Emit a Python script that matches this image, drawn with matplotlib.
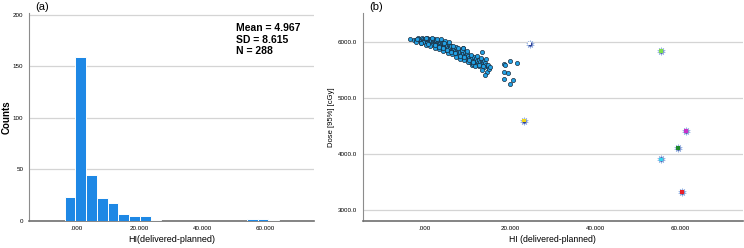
import matplotlib
matplotlib.use("Agg")
import matplotlib.pyplot as plt
import numpy as np

plt.rcParams['font.family'] = ['Liberation Sans', 'DejaVu Sans']

# ---- data: panel (a) histogram ----
bin_start = -3.9
bin_width = 3.42
counts = [23, 159, 44, 22, 17, 7, 5, 5, 1, 0, 0, 0, 0, 0, 0, 0, 0, 2, 2, 1]
hist_xticks = [0, 20, 40, 60]
hist_xticklabels = [".000", "20.000", "40.000", "60.000"]
hist_yticks = [0, 50, 100, 150, 200]
stats_text = "Mean = 4.967\nSD = 8.615\nN = 288"

# ---- data: panel (b) scatter ----
hi_main = [-3.5, -2.6, -2.0, -1.5, -1.2, -0.9, -0.6, -0.4, -0.2, 0.0, 0.1, 0.3, 0.4, 0.6, 0.7,
           0.9, 1.0, 1.1, 1.3, 1.4, 1.5, 1.6, 1.8, 1.9, 2.0, 2.1, 2.2, 2.4, 2.5, 2.6, 2.7, 2.9,
           3.0, 3.1, 3.2, 3.4, 3.5, 3.6, 3.8, 3.9, 4.0, 4.1, 4.3, 4.4, 4.5, 4.7, 4.8, 4.9, 5.0,
           5.2, 5.3, 5.5, 5.6, 5.8, 5.9, 6.0, 6.2, 6.3, 6.5, 6.6, 6.8, 6.9, 7.1, 7.3, 7.4, 7.6,
           7.8, 8.0, 8.1, 8.3, 8.5, 8.7, 8.9, 9.0, 9.2, 9.4, 9.6, 9.8, 10.0, 10.2, 10.4, 10.6,
           10.8, 11.0, 11.2, 11.5, 11.7, 11.9, 12.1, 12.3, 12.5, 12.7, 12.9, 13.1, 13.3, 13.5,
           13.6, 13.8, 14.0, 14.2, 14.4, 14.6, 14.8, 15.1, 14.2, 12.0, 11.0, 10.5, 9.5, 8.5, 7.5,
           6.5, 5.5, 4.5, 3.5, 2.5, 1.5, 0.5, -0.5,
           1.2, 2.3, 3.3, 4.2, 5.4, 6.4, 7.2, 8.2, 9.1, 10.1, 11.3, 12.6, 13.9, 0.2, -1.0,
           -2.2, -1.8, -0.8, 0.3, 0.8, 1.7, 2.3, 2.8, 3.3, 3.7, 4.2, 4.6, 5.1, 5.7, 6.1, 6.7,
           7.0, 7.7, 8.2, 8.8, 9.3, 9.9, 10.3, 10.9, 11.4, 12.2, 12.8, 13.2, 13.7, 14.3, 14.9,
           15.3, 9.0, 13.4, 11.8,
           18.5, 18.8, 19.95, 21.6, 18.6, 19.6, 18.5, 20.6, 19.95]
dose_main = [6065, 6040, 6035, 6070, 6050, 6030, 6075, 6055, 6040, 6020, 6065, 6045, 6005, 6070, 6030,
             6055, 6010, 5990, 6040, 6065, 6020, 5985, 6050, 6005, 5970, 6035, 6060, 5995, 6020, 5960, 6045, 5980,
             6010, 5945, 6030, 5970, 5995, 5930, 6015, 5955, 5980, 5910, 5990, 5940, 5965, 6020, 5920, 5950, 5890,
             5975, 5930, 5900, 5955, 5870, 5925, 5895, 5940, 5855, 5905, 5875, 5830, 5890, 5850, 5910, 5815, 5870,
             5840, 5795, 5860, 5820, 5775, 5840, 5895, 5800, 5760, 5820, 5780, 5740, 5800, 5760, 5720, 5690,
             5750, 5710, 5670, 5730, 5690, 5650, 5710, 5670, 5630, 5690, 5650, 5610, 5680, 5830,
             5640, 5600, 5660, 5625, 5590, 5475, 5550, 5530, 5420, 5595, 5600, 5640, 5700, 5720, 5760,
             5800, 5840, 5870, 5895, 5920, 5950, 5980, 6005,
             5935, 5905, 5880, 5850, 5815, 5785, 5740, 5705, 5680, 5655, 5615, 5575, 5560, 5955, 5990,
             6010, 6060, 5990, 6080, 5960, 6075, 5945, 6065, 5915, 6050, 5895, 5995, 5860, 6000, 5830, 5940,
             5800, 5905, 5760, 5860, 5730, 5845, 5690, 5780, 5640, 5745, 5600, 5720, 5570, 5700, 5600,
             5560, 5905, 5510, 5580,
             5607, 5598, 5666, 5636, 5470, 5446, 5339, 5333, 5261]

hi_special = [24.6, 55.5, 23.2, 61.3, 59.5, 55.5, 60.4]
dose_special = [5975, 5845, 4600, 4416, 4113, 3904, 3327]
special_colors = ["#ffffff", "#7ee04a", "#f2d619", "#c832c8", "#1f8a2a", "#33d6f0", "#e8202a"]

sc_xticks = [0, 20, 40, 60]
sc_xticklabels = [".000", "20.000", "40.000", "60.000"]
sc_yticks = [3000, 4000, 5000, 6000]
sc_yticklabels = ["3000.0", "4000.0", "5000.0", "6000.0"]

fig = plt.figure(figsize=(7.44, 2.48), dpi=100)
W, H = 744, 248

def px_axes(x0, y0, x1, y1):
    return fig.add_axes([x0 / W, 1 - y1 / H, (x1 - x0) / W, (y1 - y0) / H])

spine_col = "#8c8c8c"
grid_col = "#d4d4d4"

# ---------- (a) histogram ----------
ax1 = px_axes(29, 13, 314, 220.7)
lefts = bin_start + bin_width * np.arange(len(counts))
ax1.bar(lefts, counts, width=bin_width, align="edge", color="#1e88e5",
        edgecolor="white", linewidth=0.7, zorder=3)
ax1.set_xlim(-15.3, 75.6)
ax1.set_ylim(0, 202)
ax1.set_xticks(hist_xticks)
ax1.set_xticklabels(hist_xticklabels)
ax1.set_yticks(hist_yticks)
ax1.grid(axis="y", color=grid_col, linewidth=0.9, zorder=0)
ax1.set_ylabel("Counts", fontsize=7, fontweight="bold")
ax1.yaxis.set_label_coords(-0.06, 0.5)
ax1.set_xlabel("HI(delivered-planned)", fontsize=6.5, labelpad=3)
ax1.text(0.727, 0.95, stats_text, transform=ax1.transAxes, fontsize=7.5,
         fontweight="bold", va="top", ha="left", linespacing=1.15)
fig.text(35 / W, 1 - 7 / H, "(a)", fontsize=8, va="center")

# ---------- (b) scatter ----------
ax2 = px_axes(362.7, 12.7, 743, 220.7)
ax2.scatter(hi_main, dose_main, s=9, color="#23a2e6", edgecolor="#1a2a3a",
            linewidth=0.5, zorder=3)
ax2.scatter(hi_special, dose_special, s=34, marker=(10, 1, 0), color="#2e3f95",
            edgecolor="#9fbbe8", linewidth=0.4, zorder=4)
ax2.scatter(hi_special, dose_special, s=7, marker="s", c=special_colors,
            linewidth=0, zorder=5)
ax2.set_xlim(-14.6, 74.7)
ax2.set_ylim(2809, 6528)
ax2.set_xticks(sc_xticks)
ax2.set_xticklabels(sc_xticklabels)
ax2.set_yticks(sc_yticks)
ax2.set_yticklabels(sc_yticklabels)
ax2.grid(axis="y", color=grid_col, linewidth=0.9, zorder=0)
ax2.set_ylabel("Dose [95%] [cGy]", fontsize=5.5)
ax2.yaxis.set_label_coords(-0.072, 0.5)
ax2.set_xlabel("HI (delivered-planned)", fontsize=6.3, labelpad=3)
fig.text(369 / W, 1 - 7 / H, "(b)", fontsize=8, va="center")

for ax in (ax1, ax2):
    for s in ("top", "right"):
        ax.spines[s].set_visible(False)
    ax.spines["left"].set_color(spine_col)
    ax.spines["left"].set_linewidth(0.8)
    ax.spines["bottom"].set_color("#707070")
    ax.spines["bottom"].set_linewidth(1.2)
    ax.tick_params(length=0, labelsize=4.5, pad=4)
    ax.set_axisbelow(True)

fig.savefig("out.png", dpi=100)
